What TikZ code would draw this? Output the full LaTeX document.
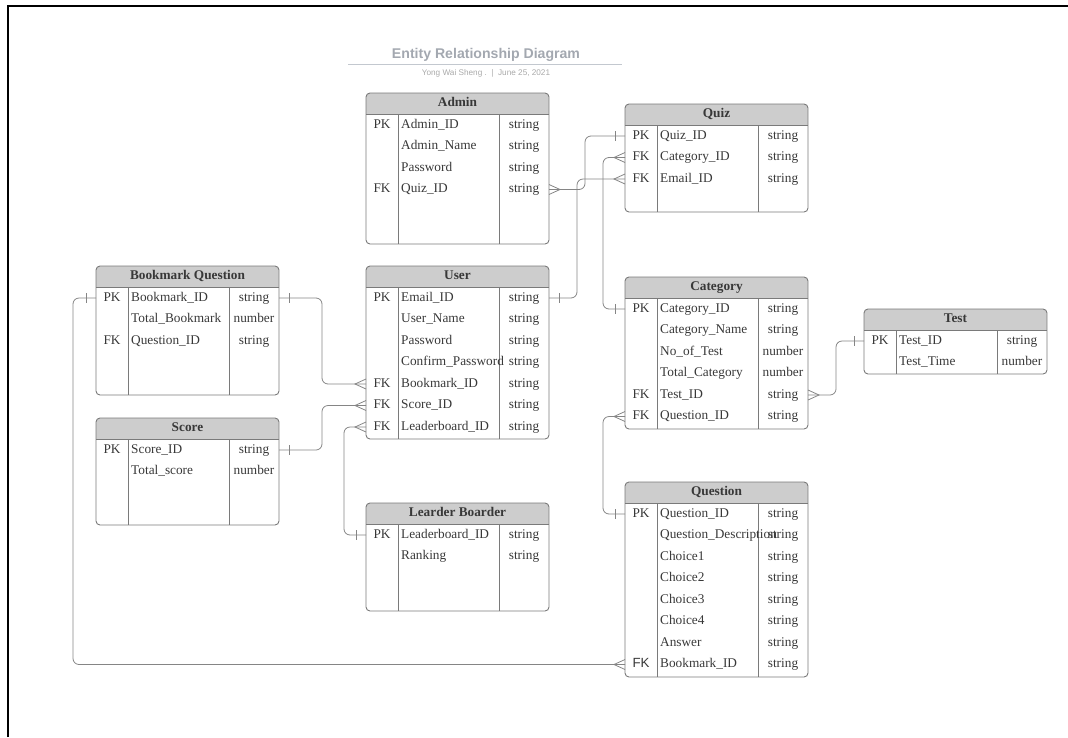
\documentclass[tikz,border=0pt]{standalone}
\usepackage{fontspec}
\setmainfont{Liberation Serif}
\setsansfont{Liberation Sans}
\usetikzlibrary{calc}

\definecolor{hdrgray}{HTML}{CDCDCD}
\definecolor{edgegray}{HTML}{7A7A7A}
\definecolor{linkgray}{HTML}{858585}
\definecolor{inkgray}{HTML}{383838}
\definecolor{titlegray}{HTML}{A3A8B0}
\definecolor{rulegray}{HTML}{C3C8CF}
\definecolor{subgray}{HTML}{A9A9A9}

\tikzset{
  tblbox/.style={minimum width=183pt, inner sep=0pt, outer sep=0pt},
  tblline/.style={draw=edgegray, line width=0.9pt},
  hdrfill/.style={fill=hdrgray},
  celltext/.style={font=\fontsize{13.3}{15}\selectfont, text=inkgray, inner sep=0pt, text height=9pt, text depth=3pt},
  hdrtext/.style={celltext, font=\fontsize{13.3}{15}\selectfont\bfseries},
  conn/.style={draw=linkgray, line width=0.8pt, rounded corners=6pt},
  endmark/.style={draw=linkgray, line width=0.8pt},
  crowR/.pic={\draw[endmark] (0,-5) -- (11,0) -- (0,5);},
  crowL/.pic={\draw[endmark] (0,-5) -- (-11,0) -- (0,5);},
  barR/.pic={\draw[endmark] (10,-5) -- (10,5);},
  barL/.pic={\draw[endmark] (-10,-5) -- (-10,5);},
}

% \ertable{name}{x}{y}{height}{title}{key/field/type,...}
\newcommand\ertable[6]{%
  \node[tblbox, minimum height=#4pt, anchor=north west] (#1) at (#2,#3) {};
  \begin{scope}
    \clip[rounded corners=4pt] (#1.north west) rectangle (#1.south east);
    \fill[hdrfill] (#1.north west) rectangle ([yshift=-21.5pt]#1.north east);
  \end{scope}
  \draw[tblline, rounded corners=4pt] (#1.north west) rectangle (#1.south east);
  \draw[tblline] ([yshift=-21.5pt]#1.north west) -- ([yshift=-21.5pt]#1.north east);
  \draw[tblline] ([xshift=32pt,yshift=-21.5pt]#1.north west) -- ([xshift=32pt]#1.south west);
  \draw[tblline] ([xshift=133pt,yshift=-21.5pt]#1.north west) -- ([xshift=133pt]#1.south west);
  \node[hdrtext] (#1-title) at ([yshift=-10.75pt]#1.north) {#5};
  \foreach \k/\f/\t [count=\i] in {#6} {
    \pgfmathsetmacro\ry{#3+32+21.5*(\i-1)}
    \node[celltext] (#1-k\i) at (#2+16,\ry) {\k};
    \node[celltext, anchor=west] (#1-\i) at (#2+35,\ry) {\f};
    \node[celltext] (#1-t\i) at (#2+158,\ry) {\t};
  }
}

\begin{document}
\begin{tikzpicture}[x=1pt, y=-1pt]
\useasboundingbox (0,0) rectangle (1068,737);

% page frame
\draw[line width=2pt, black] (8,737) -- (8,6) -- (1068,6);

% heading
\node[font=\sffamily\bfseries\fontsize{14.1}{16}\selectfont, text=titlegray, inner sep=0pt] (title) at (486,55) {Entity Relationship Diagram};
\draw[rulegray, line width=1.4pt] (348,64.5) -- (622,64.5);
\node[font=\sffamily\fontsize{8.2}{10}\selectfont, text=subgray, inner sep=0pt] (subtitle) at (486,73.5) {Yong Wai Sheng .\ \ |\ \ June 25, 2021};

% entities
\ertable{admin}{366}{93}{151}{Admin}{PK/Admin\_ID/string, /Admin\_Name/string, /Password/string, FK/Quiz\_ID/string}
\ertable{quiz}{625}{104}{108}{Quiz}{PK/Quiz\_ID/string, FK/Category\_ID/string, FK/Email\_ID/string}
\ertable{bq}{96}{266}{129}{Bookmark Question}{PK/Bookmark\_ID/string, /Total\_Bookmark/number, FK/Question\_ID/string}
\ertable{score}{96}{418}{107}{Score}{PK/Score\_ID/string, /Total\_score/number}
\ertable{user}{366}{266}{173}{User}{PK/Email\_ID/string, /User\_Name/string, /Password/string, /Confirm\_Password/string, FK/Bookmark\_ID/string, FK/Score\_ID/string, FK/Leaderboard\_ID/string}
\ertable{lb}{366}{503}{108}{Learder Boarder}{PK/Leaderboard\_ID/string, /Ranking/string}
\ertable{category}{625}{277}{152}{Category}{PK/Category\_ID/string, /Category\_Name/string, /No\_of\_Test/number, /Total\_Category/number, FK/Test\_ID/string, FK/Question\_ID/string}
\ertable{test}{864}{309}{65}{Test}{PK/Test\_ID/string, /Test\_Time/number}
\ertable{question}{625}{482}{195}{Question}{PK/Question\_ID/string, /Question\_Description/string, /Choice1/string, /Choice2/string, /Choice3/string, /Choice4/string, /Answer/string, {\sffamily FK}/Bookmark\_ID/string}

% relationships
\draw[conn] (admin.east |- admin-4) -- ++(36,0) |- (quiz.west |- quiz-1);
\pic at (admin.east |- admin-4) {crowR};
\pic at (quiz.west |- quiz-1) {barL};

\draw[conn] (category.west |- category-1) -- ++(-22,0) |- (quiz.west |- quiz-2);
\pic at (category.west |- category-1) {barL};
\pic at (quiz.west |- quiz-2) {crowL};

\draw[conn] (user.east |- user-1) -- ++(28,0) |- (quiz.west |- quiz-3);
\pic at (user.east |- user-1) {barR};
\pic at (quiz.west |- quiz-3) {crowL};

\draw[conn] (bq.east |- bq-1) -- ++(43,0) |- (user.west |- user-5);
\pic at (bq.east |- bq-1) {barR};
\pic at (user.west |- user-5) {crowL};

\draw[conn] (score.east |- score-1) -- ++(43,0) |- (user.west |- user-6);
\pic at (score.east |- score-1) {barR};
\pic at (user.west |- user-6) {crowL};

\draw[conn] (lb.west |- lb-1) -- ++(-22,0) |- (user.west |- user-7);
\pic at (lb.west |- lb-1) {barL};
\pic at (user.west |- user-7) {crowL};

\draw[conn] (category.east |- category-5) -- ++(28,0) |- (test.west |- test-1);
\pic at (category.east |- category-5) {crowR};
\pic at (test.west |- test-1) {barL};

\draw[conn] (question.west |- question-1) -- ++(-22,0) |- (category.west |- category-6);
\pic at (question.west |- question-1) {barL};
\pic at (category.west |- category-6) {crowL};

\draw[conn] (bq.west |- bq-1) -- ++(-23,0) |- (question.west |- question-8);
\pic at (bq.west |- bq-1) {barL};
\pic at (question.west |- question-8) {crowL};
\end{tikzpicture}
\end{document}
